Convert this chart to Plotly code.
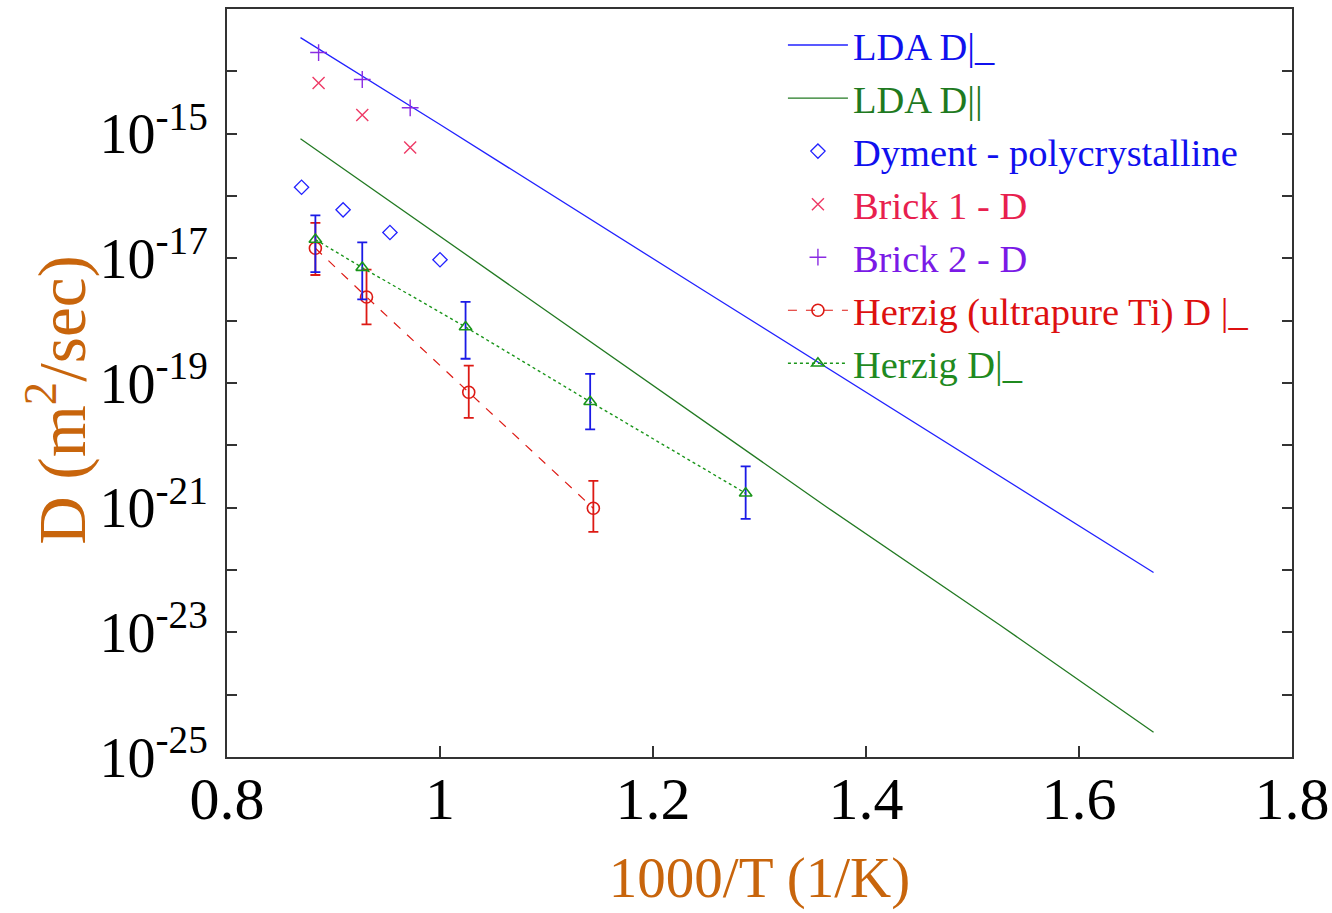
import plotly.graph_objects as go

# ---- data ----
lda_perp_x = [0.869, 1.000, 1.251, 1.670]
lda_perp_D = [3.47e-14, 1.4e-15, 2.8e-18, 9.1e-23]

lda_par_x = [0.869, 1.364, 1.526, 1.670]
lda_par_D = [8.3e-16, 1.0e-21, 1.3e-23, 2.5e-25]

dyment_x = [0.870, 0.909, 0.953, 1.000]
dyment_D = [1.38e-16, 6.0e-17, 2.6e-17, 9.5e-18]

brick1_x = [0.886, 0.927, 0.972]
brick1_D = [6.5e-15, 2.0e-15, 6.0e-16]

brick2_x = [0.886, 0.927, 0.972]
brick2_D = [2.0e-14, 7.4e-15, 2.6e-15]

herzig_pure_x = [0.883, 0.931, 1.027, 1.144]
herzig_pure_D = [1.45e-17, 2.4e-18, 7.1e-20, 9.8e-22]
herzig_pure_hi = [3.7e-17, 6.6e-18, 1.9e-19, 2.7e-21]
herzig_pure_lo = [5.4e-18, 8.7e-19, 2.75e-20, 4.1e-22]

herzig_x = [0.883, 0.927, 1.024, 1.141, 1.287]
herzig_D = [2.0e-17, 7.1e-18, 7.9e-19, 5.0e-20, 1.7e-21]
herzig_hi = [4.9e-17, 1.8e-17, 2.0e-18, 1.4e-19, 4.6e-21]
herzig_lo = [6.0e-18, 2.2e-18, 2.45e-19, 1.8e-20, 6.6e-22]

y_exponents = [-25, -24, -23, -22, -21, -20, -19, -18, -17, -16, -15, -14, -13]
x_ticks = [0.8, 1.0, 1.2, 1.4, 1.6, 1.8]
x_ticktext = ["0.8", "1", "1.2", "1.4", "1.6", "1.8"]

FONT = "Liberation Serif, Times New Roman, serif"
ORANGE = "#c8650c"
BLUE = "#2222ff"
GREEN = "#237a23"
PINK = "#ee3a66"
PURPLE = "#8a2be2"
RED = "#dd1a14"
TRI_GREEN = "#1a951a"
ERR_BLUE = "#1a1ae6"


def lbl(text, color):
    return f"<span style='color:{color}'>{text}</span>"


fig = go.Figure()

fig.add_trace(go.Scatter(x=lda_perp_x, y=lda_perp_D, mode="lines",
                         line=dict(color=BLUE, width=1.3),
                         name=lbl("LDA D|_", "#1010ee")))
fig.add_trace(go.Scatter(x=lda_par_x, y=lda_par_D, mode="lines",
                         line=dict(color=GREEN, width=1.3),
                         name=lbl("LDA D||", "#1f7a1f")))
fig.add_trace(go.Scatter(x=dyment_x, y=dyment_D, mode="markers",
                         marker=dict(symbol="diamond-open", size=11, color=BLUE,
                                     line=dict(width=1.3)),
                         name=lbl("Dyment - polycrystalline", "#1010ee")))
fig.add_trace(go.Scatter(x=brick1_x, y=brick1_D, mode="markers",
                         marker=dict(symbol="x-thin-open", size=12, color=PINK,
                                     line=dict(width=1.4, color=PINK)),
                         name=lbl("Brick 1 - D", "#e8204e")))
fig.add_trace(go.Scatter(x=brick2_x, y=brick2_D, mode="markers",
                         marker=dict(symbol="cross-thin-open", size=12, color=PURPLE,
                                     line=dict(width=1.4, color=PURPLE)),
                         name=lbl("Brick 2 - D", "#7a1ae6")))

fig.add_trace(go.Scatter(
    x=herzig_pure_x, y=herzig_pure_D, mode="lines+markers",
    line=dict(color=RED, width=1.2, dash="dash"),
    marker=dict(symbol="circle-open", size=12, color=RED, line=dict(width=1.6)),
    error_y=dict(type="data", symmetric=False,
                 array=[h - d for h, d in zip(herzig_pure_hi, herzig_pure_D)],
                 arrayminus=[d - l for d, l in zip(herzig_pure_D, herzig_pure_lo)],
                 color=RED, thickness=1.8, width=5),
    name=lbl("Herzig (ultrapure Ti) D |_", "#dd1010")))

fig.add_trace(go.Scatter(
    x=herzig_x, y=herzig_D, mode="lines+markers",
    line=dict(color=TRI_GREEN, width=1.4, dash="3px,3px"),
    marker=dict(symbol="triangle-up-open", size=11, color=TRI_GREEN, line=dict(width=1.6)),
    error_y=dict(type="data", symmetric=False,
                 array=[h - d for h, d in zip(herzig_hi, herzig_D)],
                 arrayminus=[d - l for d, l in zip(herzig_D, herzig_lo)],
                 color=ERR_BLUE, thickness=1.8, width=5),
    name=lbl("Herzig D|_", "#1f8a1f")))

y_tickvals = [10.0 ** e for e in y_exponents]
y_ticktext = [f"10<sup>{e}</sup>" if (e % 2 != 0 and e <= -15) else "" for e in y_exponents]

fig.update_layout(
    width=1332, height=913,
    margin=dict(l=227, r=40, t=9, b=156),
    paper_bgcolor="white", plot_bgcolor="white",
    font=dict(family=FONT, color="black"),
    showlegend=True,
    legend=dict(x=0.522, y=0.994, xanchor="left", yanchor="top",
                bgcolor="rgba(0,0,0,0)", font=dict(family=FONT, size=38.5),
                tracegroupgap=0, itemwidth=60),
    xaxis=dict(range=[0.8, 1.8], tickvals=x_ticks, ticktext=x_ticktext,
               ticks="inside", ticklen=11, tickwidth=1.5, tickcolor="#333",
               showline=True, linecolor="#333", linewidth=2, mirror=True,
               showgrid=False, zeroline=False, automargin=False,
               ticklabelstandoff=-12,
               tickfont=dict(family=FONT, size=60, color="black"),
               title=dict(text="1000/T (1/K)", standoff=26,
                          font=dict(family=FONT, size=57, color=ORANGE))),
    yaxis=dict(type="log", range=[-25, -13], tickvals=y_tickvals, ticktext=y_ticktext,
               ticks="inside", ticklen=10, tickwidth=1.5, tickcolor="#333",
               showline=True, linecolor="#333", linewidth=2, mirror="ticks",
               showgrid=False, zeroline=False, ticklabelstandoff=6, automargin=False,
               tickfont=dict(family=FONT, size=56, color="black")),
    annotations=[dict(text="D (m<sup>2</sup>/sec)", textangle=-90,
                      xref="paper", yref="paper", x=-0.160, y=0.477,
                      xanchor="center", yanchor="middle", showarrow=False,
                      font=dict(family=FONT, size=67, color=ORANGE))],
)

fig.write_html("out.html")
